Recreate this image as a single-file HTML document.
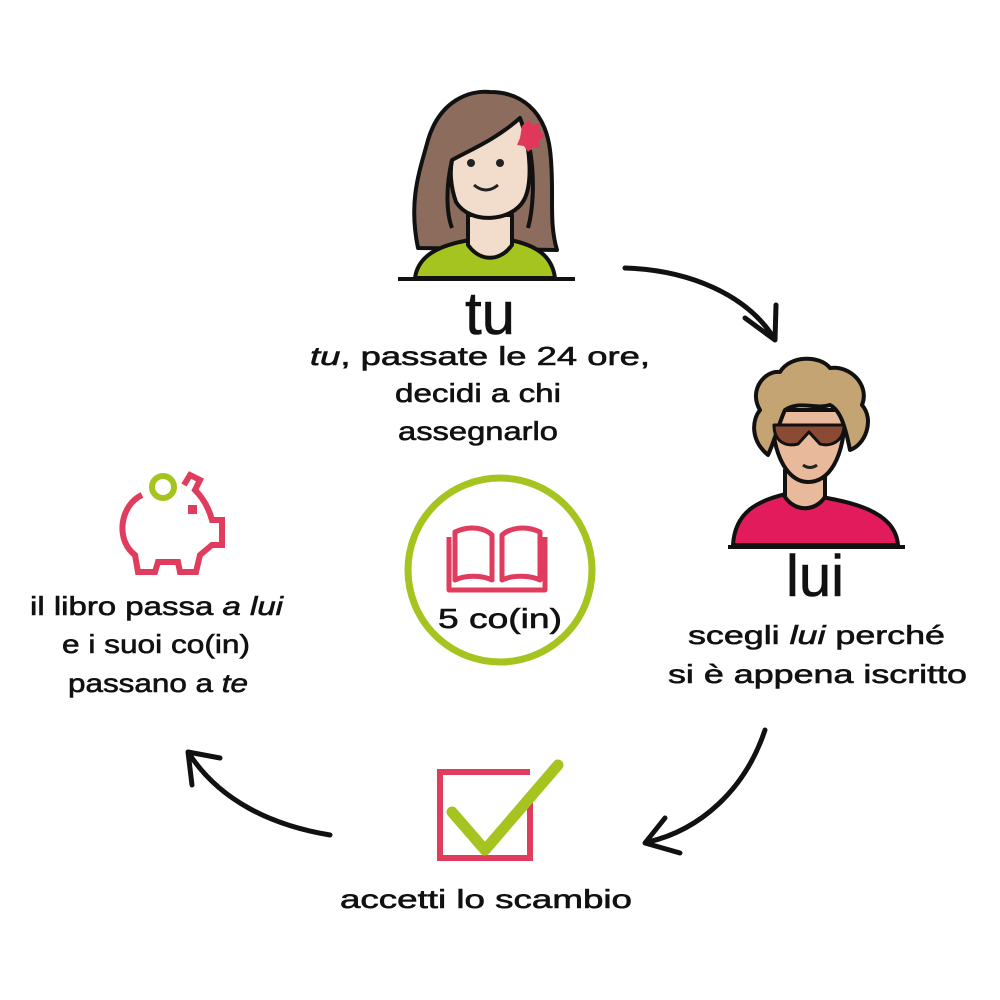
<!DOCTYPE html>
<html><head><meta charset="utf-8"><style>
html,body{margin:0;padding:0;background:#fff}
svg{display:block}
text{font-family:"Liberation Sans",sans-serif;fill:#111;stroke:#111;stroke-width:0.6}
</style></head><body>
<svg width="1000" height="1000" viewBox="0 0 1000 1000" xmlns="http://www.w3.org/2000/svg">
<!-- woman -->
<g stroke="#111" stroke-width="4" stroke-linejoin="round">
<path d="M418 248 C408 200 420 170 428 140 C440 100 470 90 490 92 C520 92 545 110 550 150 C555 190 548 220 557 250 Z" fill="#8c6d5d"/>
<path d="M415 278 C418 255 440 245 470 240 L510 240 C535 245 552 255 555 278 Z" fill="#a6c41f"/>
<path d="M468 215 L468 245 C480 262 500 262 512 245 L512 215 Z" fill="#f2dccb"/>
<path d="M452 160 C470 150 495 140 520 118 C532 150 532 185 524 200 C512 222 470 225 456 202 C450 185 450 170 452 160 Z" fill="#f2dccb"/>
<path d="M452 160 C445 190 447 215 452 228 M530 150 C535 180 533 210 528 228" fill="none"/>
</g>
<circle cx="471" cy="163" r="4" fill="#222"/><circle cx="500" cy="163" r="4" fill="#222"/>
<path d="M474 185 Q486 195 498 185" stroke="#222" stroke-width="3" fill="none"/>
<path d="M522 126 l6 -6 l5 5 l7 -2 l0 8 l5 5 l-6 5 l1 7 l-7 -1 l-5 5 l-4 -6 l-7 -1 l3 -7 z" fill="#e0385a"/>
<line x1="398" y1="279" x2="575" y2="279" stroke="#111" stroke-width="4"/>
<text x="490" y="334" font-size="60" text-anchor="middle" font-family="Liberation Serif" stroke-width="2">tu</text>
<!-- man -->
<g stroke="#111" stroke-width="4" stroke-linejoin="round">
<path d="M733 545 C735 510 760 500 790 493 L800 493 C835 500 895 505 898 545 Z" fill="#e21c5c"/>
<path d="M785 470 L785 497 C795 512 815 512 825 497 L825 470 Z" fill="#e8b99b"/>
<path d="M772 410 C772 460 790 482 808 482 C828 482 845 460 845 410 Z" fill="#e8b99b"/>
<path d="M768 455 C750 440 752 420 760 410 C748 390 765 370 780 372 C790 355 820 355 830 368 C850 365 870 385 862 405 C875 420 865 445 850 450 C845 425 840 410 830 405 C815 410 800 400 785 410 C780 420 775 440 768 455 Z" fill="#c4a473"/>
<path d="M774 425 L844 425 C844 442 830 447 820 444 L809 432 L798 444 C786 447 774 442 774 425 Z" fill="#8b4a34" stroke-width="3"/>
</g>
<path d="M803 465 Q810 470 817 465" stroke="#222" stroke-width="3" fill="none"/>
<line x1="728" y1="547" x2="905" y2="547" stroke="#111" stroke-width="4"/>
<text x="815" y="596" font-size="58" text-anchor="middle" font-family="Liberation Serif" stroke-width="2">lui</text>
<!-- arrows -->
<g stroke="#111" stroke-width="5" fill="none" stroke-linecap="round" stroke-linejoin="round">
<path d="M625 268 C690 270 745 295 772 335"/>
<path d="M745 318 L775 340 L776 305"/>
<path d="M765 730 C745 790 700 830 648 842"/>
<path d="M665 818 L645 843 L680 853"/>
<path d="M330 835 C270 825 220 800 190 755"/>
<path d="M192 785 L188 752 L220 758"/>
</g>
<!-- piggy -->
<circle cx="163" cy="487" r="11" fill="none" stroke="#a6c41f" stroke-width="6"/>
<path d="M142 495 C120 505 115 540 135 555 L138 572 L155 572 L158 562 L178 562 L180 572 L196 572 L200 555 L212 545 L222 545 L222 520 L212 520 C208 505 200 495 195 490 L200 480 L190 475 L184 485" fill="none" stroke="#e03c5e" stroke-width="6" stroke-linejoin="miter"/>
<rect x="188" y="505" width="9" height="9" fill="#e03c5e"/>
<!-- center -->
<circle cx="500" cy="570" r="92" fill="none" stroke="#a6c41f" stroke-width="7"/>
<g fill="none" stroke="#e03c5e" stroke-width="5" stroke-linejoin="round">
<path d="M455 532 C470 525 485 528 492 535 L492 580 C482 575 465 575 455 580 Z"/>
<path d="M540 532 C525 525 510 528 502 535 L502 580 C512 575 530 575 540 580 Z"/>
<path d="M449 537 L449 590 L545 590 L545 537"/>
</g>
<text x="438" y="628" font-size="28" textLength="124" lengthAdjust="spacingAndGlyphs" stroke-width="1">5 co(in)</text>
<!-- checkbox -->
<path d="M530 802 L530 858 L440 858 L440 772 L530 772" fill="none" stroke="#e03c5e" stroke-width="6"/>
<path d="M452 812 L485 850 L558 765" fill="none" stroke="#a6c41f" stroke-width="11" stroke-linecap="round" stroke-linejoin="round"/>
<!-- texts -->
<g font-size="26" stroke-width="1" lengthAdjust="spacingAndGlyphs">
<text x="310" y="365" textLength="340" lengthAdjust="spacingAndGlyphs"><tspan font-style="italic">tu</tspan>, passate le 24 ore,</text>
<text x="395" y="402" textLength="166" lengthAdjust="spacingAndGlyphs">decidi a chi</text>
<text x="398" y="440" textLength="160" lengthAdjust="spacingAndGlyphs">assegnarlo</text>
<text x="688" y="644" textLength="257" lengthAdjust="spacingAndGlyphs">scegli <tspan font-style="italic">lui</tspan> perché</text>
<text x="668" y="683" textLength="299" lengthAdjust="spacingAndGlyphs">si è appena iscritto</text>
<text x="30" y="615" textLength="253" lengthAdjust="spacingAndGlyphs">il libro passa <tspan font-style="italic">a lui</tspan></text>
<text x="62" y="653" textLength="188" lengthAdjust="spacingAndGlyphs">e i suoi co(in)</text>
<text x="68" y="692" textLength="180" lengthAdjust="spacingAndGlyphs">passano a <tspan font-style="italic">te</tspan></text>
<text x="340" y="908" textLength="292" lengthAdjust="spacingAndGlyphs">accetti lo scambio</text>
</g>
</svg>
</body></html>
